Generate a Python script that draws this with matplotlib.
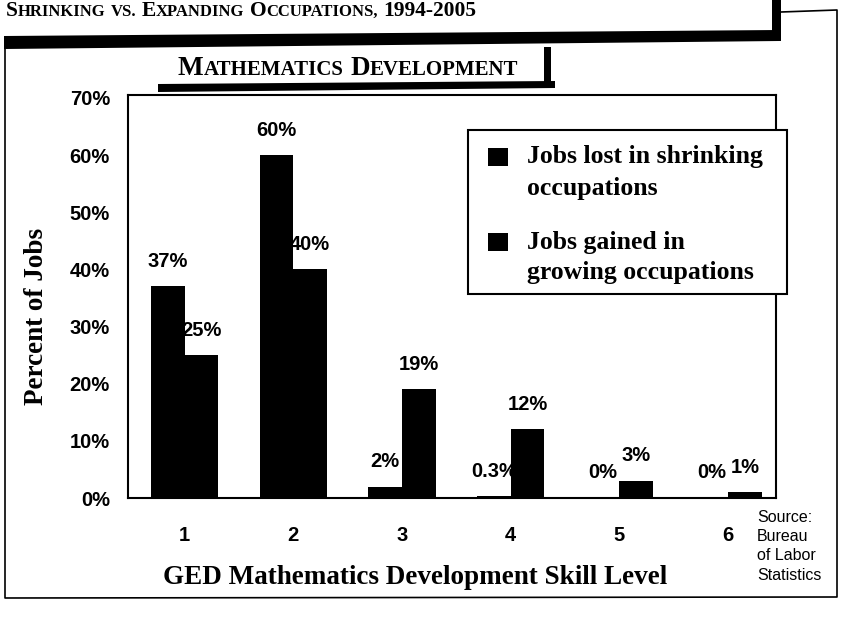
import numpy as np
import matplotlib.pyplot as plt
from matplotlib.patches import Polygon, Rectangle

# data
levels = ["1", "2", "3", "4", "5", "6"]
jobs_lost = [37, 60, 2, 0.3, 0, 0]
jobs_gained = [25, 40, 19, 12, 3, 1]
lost_labels = ["37%", "60%", "2%", "0.3%", "0%", "0%"]
gained_labels = ["25%", "40%", "19%", "12%", "3%", "1%"]
yticks = [0, 10, 20, 30, 40, 50, 60, 70]
legend_lost = "Jobs lost in shrinking\noccupations"
legend_gained = "Jobs gained in\ngrowing occupations"
source_lines = ["Source:", "Bureau", "of Labor", "Statistics"]

serif = "Liberation Serif"
sans = "Liberation Sans"
W, H = 844, 624

fig = plt.figure(figsize=(W / 100, H / 100), dpi=100)

ax = fig.add_axes([128 / W, 1 - 498 / H, (776 - 128) / W, (498 - 95) / H], zorder=1)
x = np.arange(len(levels))
w = 0.31
b1 = ax.bar(x - w / 2, jobs_lost, w, color="black")
b2 = ax.bar(x + w / 2, jobs_gained, w, color="black")
for bars, labs in ((b1, lost_labels), (b2, gained_labels)):
    for r, lab in zip(bars, labs):
        ax.annotate(lab, (r.get_x() + r.get_width() / 2, r.get_height()),
                    xytext=(0, 18), textcoords="offset points", ha="center", va="center",
                    fontfamily=sans, fontweight="bold", fontsize=14.5)
ax.set_xlim(-0.52, 5.44)
ax.set_ylim(0, 70.5)
ax.set_xticks(x, levels)
ax.set_yticks(yticks, [f"{t}%" for t in yticks])
ax.tick_params(length=0)
ax.tick_params(axis="x", pad=20)
ax.tick_params(axis="y", pad=13)
for lab in ax.get_xticklabels() + ax.get_yticklabels():
    lab.set_fontfamily(sans)
    lab.set_fontweight("bold")
    lab.set_fontsize(14.5)
for s in ax.spines.values():
    s.set_linewidth(1.5)

# overlay in pixel coordinates for the page decoration and the legend
top = fig.add_axes([0, 0, 1, 1], zorder=3)
top.set_xlim(0, W)
top.set_ylim(H, 0)
top.axis("off")
top.patch.set_visible(False)

renderer = fig.canvas.get_renderer()


def small_caps(x0, y0, text, big, small):
    cx = x0
    for word in text.split(" "):
        runs = []
        prev = big
        for ch in word:
            if ch.islower():
                sz = small
            elif ch.isupper() or ch.isdigit():
                sz = big
            else:
                sz = prev
            if runs and runs[-1][1] == sz:
                runs[-1][0] += ch.upper()
            else:
                runs.append([ch.upper(), sz])
            prev = sz
        for s, sz in runs:
            t = top.text(cx, y0, s, fontfamily=serif, fontweight="bold", fontsize=sz,
                         va="baseline", ha="left")
            cx += t.get_window_extent(renderer).width
        cx += 0.25 * big * 100 / 72


# page title and frame
small_caps(6, 16, "Shrinking vs. Expanding Occupations, 1994-2005", 15.5, 12)
top.add_patch(Polygon([(4, 36), (780, 30), (780, 41), (4, 49)], color="black", lw=0))
top.add_patch(Rectangle((772, 0), 9, 41, color="black", lw=0))
top.plot([781, 837, 837, 5, 5], [12, 10, 597, 598, 46], color="black", lw=1.2)

# panel title
small_caps(178, 75, "Mathematics Development", 19.5, 15)
top.add_patch(Polygon([(158, 84), (555, 81), (555, 88), (158, 92)], color="black", lw=0))
top.add_patch(Rectangle((544, 47), 7, 40, color="black", lw=0))

# legend
top.add_patch(Rectangle((468, 130), 319, 164, facecolor="white", edgecolor="black", lw=1.5))
for bars, label, yc in ((b1, legend_lost, 157), (b2, legend_gained, 242)):
    top.add_patch(Rectangle((488, yc - 9), 20, 18, color=bars[0].get_facecolor(), lw=0))
    for i, line in enumerate(label.split("\n")):
        top.text(527, yc + 31 * i, line, fontfamily=serif, fontweight="bold", fontsize=18.5,
                 va="center", ha="left")

# axis titles
top.text(37, 316, "Percent of Jobs", rotation=90, fontfamily=serif, fontweight="bold",
         fontsize=19.5, ha="center", va="center")
top.text(415, 578, "GED Mathematics Development Skill Level", fontfamily=serif,
         fontweight="bold", fontsize=19.5, ha="center", va="center")
for i, line in enumerate(source_lines):
    top.text(757, 517 + 19.5 * i, line, fontfamily=sans, fontsize=11.5, ha="left", va="center")

fig.savefig("out.png", dpi=100)
